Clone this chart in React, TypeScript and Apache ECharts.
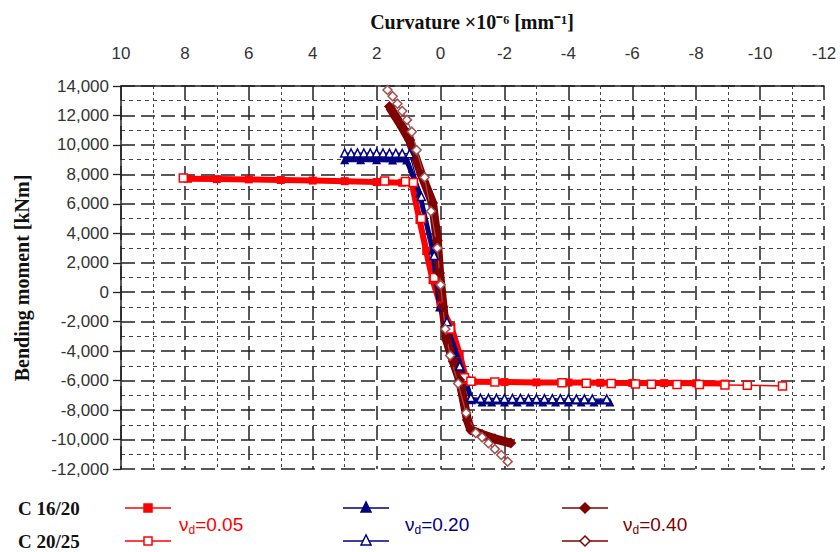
import React, { useEffect, useRef } from "react";
import * as echarts from "echarts";

// Curvature x10^-6 [1/mm], bending moment [kNm]
const c1620_nu005: [number, number][] = [
  [7.9, 7700], [7.0, 7680], [6.0, 7660], [5.0, 7620], [4.0, 7580], [3.0, 7540],
  [2.0, 7480], [1.2, 7430], [0.9, 7380], [0.66, 4900], [0.45, 2800], [0.25, 830],
  [0.0, -900], [-0.34, -2360], [-0.6, -4200], [-0.81, -5960], [-1.0, -6080],
  [-2.0, -6100], [-3.0, -6120], [-4.0, -6130], [-5.0, -6150], [-6.0, -6160],
  [-7.0, -6170], [-8.0, -6180], [-8.9, -6200],
];
const c2025_nu005: [number, number][] = [
  [8.05, 7750], [1.75, 7550], [1.1, 7520], [0.85, 7450], [0.6, 5000], [0.2, 1000],
  [-0.3, -2500], [-0.75, -5800], [-0.95, -6050], [-1.7, -6100], [-3.8, -6150],
  [-4.56, -6180], [-5.34, -6200], [-6.1, -6230], [-6.6, -6240], [-7.4, -6260],
  [-8.1, -6270], [-8.9, -6290], [-9.6, -6310], [-10.7, -6370],
];
const c1620_nu020: [number, number][] = [
  [3.0, 9000], [2.5, 9000], [2.0, 8990], [1.5, 8980], [1.06, 8975], [0.66, 6735],
  [0.25, 2870], [0.03, -1000], [-0.5, -4130], [-0.97, -7300], [-1.3, -7450],
  [-1.6, -7450], [-2.0, -7450], [-2.4, -7450], [-2.8, -7450], [-3.2, -7455],
  [-3.6, -7455], [-4.0, -7460], [-4.4, -7460], [-4.8, -7460], [-5.3, -7460],
];
const c2025_nu020: [number, number][] = [
  [3.0, 9450], [2.8, 9450], [2.6, 9450], [2.4, 9450], [2.2, 9450], [2.0, 9450],
  [1.8, 9450], [1.6, 9440], [1.4, 9440], [1.2, 9430], [0.97, 9400], [0.6, 6500],
  [0.2, 2500], [-0.2, -2000], [-0.6, -5000], [-0.95, -7150], [-1.25, -7200],
  [-1.5, -7200], [-1.75, -7200], [-2.0, -7210], [-2.25, -7210], [-2.5, -7210],
  [-2.75, -7220], [-3.0, -7220], [-3.25, -7220], [-3.5, -7230], [-3.75, -7230],
  [-4.0, -7230], [-4.25, -7240], [-4.5, -7240], [-4.75, -7250], [-5.2, -7250],
];
const c1620_nu040: [number, number][] = [
  [1.6, 12600], [1.4, 11900], [1.2, 11200], [0.97, 10330], [0.6, 8000], [0.25, 6060],
  [0.1, 3500], [0.03, 1300], [-0.08, -1000], [-0.19, -3240], [-0.4, -4700],
  [-0.6, -5960], [-0.84, -8675], [-0.95, -9350], [-1.3, -9650], [-1.7, -9950],
  [-2.2, -10240],
];
const c2025_nu040: [number, number][] = [
  [1.66, 13730], [1.5, 13300], [1.35, 12800], [1.2, 12300], [1.05, 11700],
  [0.9, 10900], [0.75, 9650], [0.5, 7800], [0.3, 5500], [0.1, 3000], [0.0, 500],
  [-0.15, -2500], [-0.3, -4300], [-0.55, -6200], [-0.8, -8200], [-1.1, -9550],
  [-1.3, -9850], [-1.5, -10250], [-1.7, -10650], [-1.9, -11050], [-2.1, -11500],
];

const concreteLabels = ["C 16/20", "C 20/25"];
const nuLabels = ["0.05", "0.20", "0.40"];
const nuColors = ["#ff0000", "#000080", "#800000"];

const SANS = "Liberation Sans";
const SERIF = "Liberation Serif";

export default function App() {
  const ref = useRef<HTMLDivElement>(null);
  useEffect(() => {
    if (!ref.current) return;
    const chart = echarts.init(ref.current, undefined, { renderer: "svg" });

    const legendX = [125, 343, 562];
    const legendTextX = [179, 405, 623];
    const row1 = 508;
    const row2 = 541;
    const graphic: any[] = [
      {
        type: "text", x: 472, y: 22,
        style: { text: "Curvature \u00d710\u207b\u2076 [mm\u207b\u00b9]", font: `bold 20px "${SERIF}"`, fill: "#111", align: "center", verticalAlign: "middle" },
      },
      {
        type: "text", x: 22, y: 278, rotation: Math.PI / 2,
        style: { text: "Bending moment [kNm]", font: `bold 20px "${SERIF}"`, fill: "#111", align: "center", verticalAlign: "middle" },
      },
      {
        type: "text", x: 18, y: row1,
        style: { text: concreteLabels[0], font: `bold 19px "${SERIF}"`, fill: "#111", align: "left", verticalAlign: "middle" },
      },
      {
        type: "text", x: 18, y: row2,
        style: { text: concreteLabels[1], font: `bold 19px "${SERIF}"`, fill: "#111", align: "left", verticalAlign: "middle" },
      },
    ];
    nuColors.forEach((c, i) => {
      const x0 = legendX[i];
      const xm = x0 + 23;
      [row1, row2].forEach((ry, r) => {
        graphic.push({ type: "line", shape: { x1: x0, y1: ry, x2: x0 + 46, y2: ry }, style: { stroke: c, lineWidth: 1.5 } });
        const fill = r === 0 ? c : "#fff";
        if (i === 0) {
          graphic.push({ type: "rect", shape: { x: xm - 4, y: ry - 4, width: 8, height: 8 }, style: { fill, stroke: c, lineWidth: 1.5 } });
        } else if (i === 1) {
          graphic.push({ type: "polygon", shape: { points: [[xm, ry - 6], [xm - 5, ry + 4], [xm + 5, ry + 4]] }, style: { fill, stroke: c, lineWidth: 1.5 } });
        } else {
          graphic.push({ type: "polygon", shape: { points: [[xm, ry - 5], [xm + 5, ry], [xm, ry + 5], [xm - 5, ry]] }, style: { fill, stroke: c, lineWidth: 1.5 } });
        }
      });
      graphic.push({
        type: "text", x: legendTextX[i], y: 524,
        style: {
          text: `{a|\u03bd}{b|d}{a|=${nuLabels[i]}}`,
          align: "left", verticalAlign: "middle",
          rich: {
            a: { fontFamily: SANS, fontSize: 19, fill: c, lineHeight: 24 },
            b: { fontFamily: SANS, fontSize: 12, fill: c, lineHeight: 24, verticalAlign: "bottom" },
          },
        },
      });
    });

    const mk = (data: [number, number][], color: string, symbol: string, filled: boolean, lw: number, size: number) => ({
      type: "line",
      data,
      symbol,
      symbolSize: size,
      showSymbol: true,
      lineStyle: { color, width: lw },
      itemStyle: filled ? { color, borderColor: color, borderWidth: 0 } : { color: "#fff", borderColor: color, borderWidth: 1.5 },
      emphasis: { disabled: true },
      animation: false,
    });

    chart.setOption({
      animation: false,
      grid: { left: 121, right: 16, top: 86, bottom: 83 },
      xAxis: {
        type: "value", position: "top", inverse: true, min: -12, max: 10, interval: 2,
        axisLine: { onZero: false, lineStyle: { color: "#222", width: 1.5 } },
        axisTick: { show: false },
        axisLabel: { margin: 24, fontFamily: SANS, fontSize: 17, color: "#333" },
        splitLine: { show: true, lineStyle: { color: "#222", width: 1.5, type: [14, 6] } },
        minorTick: { show: false, splitNumber: 2 },
        minorSplitLine: { show: true, lineStyle: { color: "#444", width: 1, type: [3, 3] } },
      },
      yAxis: {
        type: "value", min: -12000, max: 14000, interval: 2000,
        axisLine: { show: true, onZero: false, lineStyle: { color: "#222", width: 1.5 } },
        axisTick: { show: true, length: 8, lineStyle: { color: "#222", width: 1.3 } },
        axisLabel: {
          margin: 12, fontFamily: SANS, fontSize: 17, color: "#333",
          formatter: (v: number) => v.toLocaleString("en-US"),
        },
        splitLine: { show: true, lineStyle: { color: "#222", width: 1.5, type: [14, 6] } },
        minorTick: { show: false, splitNumber: 2 },
        minorSplitLine: { show: true, lineStyle: { color: "#444", width: 1, type: [4, 4] } },
      },
      series: [
        mk(c1620_nu005, nuColors[0], "rect", true, 6, 8),
        mk(c2025_nu005, nuColors[0], "rect", false, 1.5, 8),
        mk(c1620_nu020, nuColors[1], "triangle", true, 5, 9),
        mk(c2025_nu020, nuColors[1], "triangle", false, 1.2, 8),
        mk(c1620_nu040, nuColors[2], "diamond", true, 9, 11),
        mk(c2025_nu040, "#a05050", "diamond", false, 1.2, 9),
      ],
      graphic,
    });
    return () => chart.dispose();
  }, []);
  return <div ref={ref} style={{ width: 840, height: 552, position: "absolute", left: 0, top: 0 }} />;
}
